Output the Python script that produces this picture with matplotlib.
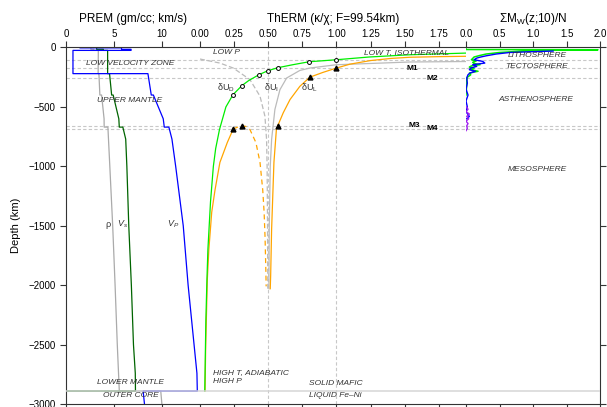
import matplotlib.pyplot as plt

plt.rcParams['font.family'] = 'Liberation Sans'
plt.rcParams['mathtext.fontset'] = 'custom'
plt.rcParams['mathtext.rm'] = 'Liberation Sans'
plt.rcParams['mathtext.it'] = 'Liberation Sans:italic'
plt.rcParams['mathtext.bf'] = 'Liberation Sans:bold'

# PREM profile: depth (km), density (gm/cc), Vp / Vs (km/s)
prem_depth = [0, 3, 3, 15, 15, 24.4, 24.4, 220, 220, 400, 400, 600, 670, 670,
              771, 1000, 1500, 2000, 2500, 2741, 2891, 2891, 3000]
prem_vp = [1.45, 1.45, 5.8, 5.8, 6.8, 6.8, 0.73, 0.73, 8.56, 8.91, 9.13, 10.16, 10.27, 10.75,
           11.07, 11.46, 12.25, 12.76, 13.38, 13.68, 13.72, 8.06, 8.20]
prem_vs = [3.2, 3.2, 3.2, 3.2, 3.9, 3.9, 4.35, 4.35, 4.55, 4.77, 4.93, 5.52, 5.57, 5.94,
           6.24, 6.36, 6.56, 6.83, 7.05, 7.24, 7.26, 0.0, 0.0]
prem_rho = [2.6, 2.6, 2.6, 2.6, 2.9, 2.9, 3.38, 3.36, 3.44, 3.54, 3.72, 3.98, 3.99, 4.38,
            4.44, 4.58, 4.88, 5.13, 5.36, 5.49, 5.57, 9.90, 10.02]

# ThERM curves (value, depth km)
dUD_depth = [47, 61, 80, 103, 120, 145, 170, 195, 229, 280, 321, 397, 500, 690, 850,
             1000, 1300, 1700, 1950, 2300, 2891]
dUD_val = [1.95, 1.54, 1.24, 1.0, 0.80, 0.68, 0.571, 0.498, 0.432, 0.355, 0.307, 0.242,
           0.19, 0.143, 0.115, 0.098, 0.077, 0.058, 0.051, 0.043, 0.035]
dUD_mark_depth = [103, 120, 170, 195, 229, 321, 397]
dUD_mark_val = [1.0, 0.80, 0.571, 0.498, 0.432, 0.307, 0.242]

dUL_depth = [74, 77, 82, 92, 110, 140, 173, 210, 250, 327, 438, 550, 656, 690, 967,
             1530, 1920, 2030]
dUL_val = [1.95, 1.75, 1.54, 1.4, 1.25, 1.1, 1.0, 0.9, 0.805, 0.732, 0.66, 0.61, 0.571,
           0.56, 0.542, 0.525, 0.518, 0.515]
dUL_low_depth = [2891, 2500, 1947, 1700, 1386, 1200, 967, 800, 685]
dUL_low_val = [0.037, 0.042, 0.054, 0.065, 0.086, 0.11, 0.146, 0.2, 0.244]
dUL_dash_depth = [685, 668, 660, 664, 690, 800, 967, 1200, 1386, 1600, 1889, 2010]
dUL_dash_val = [0.244, 0.28, 0.31, 0.335, 0.366, 0.41, 0.44, 0.46, 0.47, 0.477, 0.483, 0.485]
dUL_mark_depth = [173, 252, 660, 685, 660]
dUL_mark_val = [1.0, 0.805, 0.571, 0.244, 0.31]

dUI_dash_depth = [97, 131, 173, 270, 410, 578, 774, 1000, 1500, 2030]
dUI_dash_val = [0.0, 0.146, 0.244, 0.366, 0.44, 0.476, 0.488, 0.492, 0.495, 0.497]
dUI_depth = [118, 122, 145, 173, 193, 257, 355, 522, 774, 1000, 1500, 2030]
dUI_val = [1.95, 1.54, 1.0, 0.805, 0.732, 0.635, 0.586, 0.549, 0.525, 0.515, 0.508, 0.505]

# sum of Mw per depth
mw_g_depth = [0, 17, 19, 24, 32, 42, 55, 68, 80, 92, 103, 115, 125, 135, 145, 155, 165,
              175, 185, 200, 215, 230, 250, 280, 320, 400]
mw_green = [0, 0, 1.97, 1.2, 0.8, 0.5, 0.3, 0.2, 0.12, 0.1, 0.08, 0.15, 0.1, 0.12, 0.21,
            0.08, 0.05, 0.12, 0.06, 0.18, 0.05, 0.07, 0.02, 0.01, 0.01, 0.0]
mw_b_depth = [30, 36, 42, 55, 70, 80, 89, 103, 117, 131, 145, 159, 173, 187, 200, 215,
              229, 257, 300, 350, 400, 450, 500, 540, 580, 600]
mw_blue = [1.3, 0.95, 0.65, 0.45, 0.3, 0.22, 0.16, 0.12, 0.25, 0.28, 0.1, 0.16, 0.07, 0.05,
           0.14, 0.06, 0.03, 0.01, 0.02, 0.0, 0.03, 0.0, 0.02, 0.0, 0.05, 0.01]
mw_p_depth = [500, 520, 540, 560, 580, 600, 620, 640, 660, 680, 700]
mw_purple = [0.01, 0.03, 0.0, 0.05, 0.01, 0.04, 0.0, 0.03, 0.01, 0.02, 0.0]

boundary_depth = [103, 173, 257, 662, 690]
cmb_depth = 2891


def neg(values):
    return [-v for v in values]


fig = plt.figure(figsize=(6.07, 4.07), dpi=100)
gs = fig.add_gridspec(1, 3, width_ratios=[134, 266, 134], left=0.1087, right=0.9885,
                      top=0.8833, bottom=0.0074, wspace=0)
ax1 = fig.add_subplot(gs[0])
ax2 = fig.add_subplot(gs[1], sharey=ax1)
ax3 = fig.add_subplot(gs[2], sharey=ax1)
axes = [ax1, ax2, ax3]

for ax in axes:
    for d in boundary_depth:
        ax.axhline(-d, color='#c8c8c8', lw=0.8, ls=(0, (3, 2)), zorder=0)
    ax.axhline(-cmb_depth, color='#d4d4d4', lw=1.3, alpha=0.8, zorder=3)
    for s in ['left', 'right']:
        ax.spines[s].set_visible(False)
    for s in ['top', 'bottom']:
        ax.spines[s].set_color('#333333')
    ax.xaxis.set_label_position('top')
    ax.tick_params(axis='x', top=True, bottom=True, labeltop=True, labelbottom=False,
                   length=4, labelsize=7, color='#333333', pad=2)
    ax.tick_params(axis='y', left=False, right=False, labelleft=False, labelright=False)

# PREM panel
ax1.plot(prem_rho, neg(prem_depth), color='#aaaaaa', lw=0.9)
ax1.plot(prem_vs, neg(prem_depth), color='#006400', lw=0.9)
ax1.plot(prem_vp, neg(prem_depth), color='blue', lw=0.9)
ax1.set_xlim(0, 14)
ax1.set_xticks([0, 5, 10])
ax1.set_xlabel('PREM (gm/cc; km/s)', fontsize=8.5, labelpad=5)
ax1.spines['left'].set_visible(True)
ax1.spines['left'].set_color('#333333')
ax1.tick_params(axis='y', left=True, labelleft=True, length=4, labelsize=7, color='#333333')
ax1.set_ylim(-3000, 0)
ax1.set_yticks([0, -500, -1000, -1500, -2000, -2500, -3000])
ax1.set_ylabel('Depth (km)', fontsize=8, labelpad=5)

lab = dict(fontsize=6, style='italic', color='#333333')
ax1.text(6.7, -137, 'LOW VELOCITY ZONE', ha='center', va='center', **lab)
ax1.text(6.7, -447, 'UPPER MANTLE', ha='center', va='center', **lab)
ax1.text(6.7, -2820, 'LOWER MANTLE', ha='center', va='center', **lab)
ax1.text(6.8, -2928, 'OUTER CORE', ha='center', va='center', **lab)
ax1.text(4.4, -1486, 'ρ', ha='center', va='center', fontsize=6.5, color='#333333')
ax1.text(5.9, -1486, '$V_s$', ha='center', va='center', fontsize=6.5, color='#333333')
ax1.text(11.2, -1486, '$V_P$', ha='center', va='center', fontsize=6.5, color='#333333')

# ThERM panel
ax2.axvline(0.5, color='#c8c8c8', lw=0.8, ls=(0, (3, 2)), zorder=0)
ax2.axvline(1.0, color='#c8c8c8', lw=0.8, ls=(0, (3, 2)), zorder=0)
ax2.plot(dUI_dash_val, neg(dUI_dash_depth), color='#bbbbbb', lw=0.9, ls=(0, (4, 2)))
ax2.plot(dUI_val, neg(dUI_depth), color='#bbbbbb', lw=0.9)
ax2.plot(dUL_low_val, neg(dUL_low_depth), color='orange', lw=0.9)
ax2.plot(dUL_dash_val, neg(dUL_dash_depth), color='orange', lw=0.9, ls=(0, (4, 3)))
ax2.plot(dUL_val, neg(dUL_depth), color='orange', lw=0.9)
ax2.plot(dUD_val, neg(dUD_depth), color='#00ee00', lw=0.9)
ax2.plot(dUD_mark_val, neg(dUD_mark_depth), 'o', ms=2.8, mfc='white', mec='black', mew=0.7)
ax2.plot(dUL_mark_val, neg(dUL_mark_depth), '^', ms=3.5, color='black')
ax2.set_xlim(0, 1.95)
ax2.set_xticks([0, 0.25, 0.5, 0.75, 1.0, 1.25, 1.5, 1.75])
ax2.set_xticklabels(['0.00', '0.25', '0.50', '0.75', '1.00', '1.25', '1.50', '1.75'])
ax2.set_xlabel('ThERM (κ/χ; F=99.54km)', fontsize=8.5, labelpad=5)

ax2.text(0.093, -44, 'LOW P', ha='left', va='center', **lab)
ax2.text(1.2, -44, 'LOW T, ISOTHERMAL', ha='left', va='center', **lab)
ax2.text(0.093, -2735, 'HIGH T, ADIABATIC', ha='left', va='center', **lab)
ax2.text(0.093, -2813, 'HIGH P', ha='left', va='center', **lab)
ax2.text(0.80, -2830, 'SOLID MAFIC', ha='left', va='center', **lab)
ax2.text(0.80, -2925, 'LIQUID Fe–Ni', ha='left', va='center', **lab)
ax2.text(0.19, -340, 'δU$_\\mathregular{D}$', ha='center', va='center', fontsize=6.5, color='#333333')
ax2.text(0.52, -340, 'δU$_\\mathregular{I}$', ha='center', va='center', fontsize=6.5, color='#333333')
ax2.text(0.80, -340, 'δU$_\\mathregular{L}$', ha='center', va='center', fontsize=6.5, color='#333333')
ax2.text(1.56, -173, 'M1', ha='center', va='center', fontsize=6, weight='bold')
ax2.text(1.70, -257, 'M2', ha='center', va='center', fontsize=6, weight='bold')
ax2.text(1.57, -656, 'M3', ha='center', va='center', fontsize=6, weight='bold')
ax2.text(1.70, -684, 'M4', ha='center', va='center', fontsize=6, weight='bold')

# Mw panel
ax3.plot(mw_green, neg(mw_g_depth), color='#00ee00', lw=1.1)
ax3.plot(mw_blue, neg(mw_b_depth), color='blue', lw=1.0)
ax3.plot(mw_purple, neg(mw_p_depth), color='#a020f0', lw=1.0)
ax3.set_xlim(0, 2)
ax3.set_xticks([0, 0.5, 1.0, 1.5, 2.0])
ax3.set_xticklabels(['0.0', '0.5', '1.0', '1.5', '2.0'])
ax3.set_xlabel('ΣM$_\\mathregular{W}$(z;10)/N', fontsize=8.5, labelpad=5)
ax3.spines['right'].set_visible(True)
ax3.spines['right'].set_color('#333333')
ax3.tick_params(axis='y', right=True, length=4, color='#333333')

ax3.text(1.06, -64, 'LITHOSPHERE', ha='center', va='center', **lab)
ax3.text(1.06, -164, 'TECTOSPHERE', ha='center', va='center', **lab)
ax3.text(1.05, -438, 'ASTHENOSPHERE', ha='center', va='center', **lab)
ax3.text(1.06, -1025, 'MESOSPHERE', ha='center', va='center', **lab)

plt.savefig('out.png', dpi=100)
